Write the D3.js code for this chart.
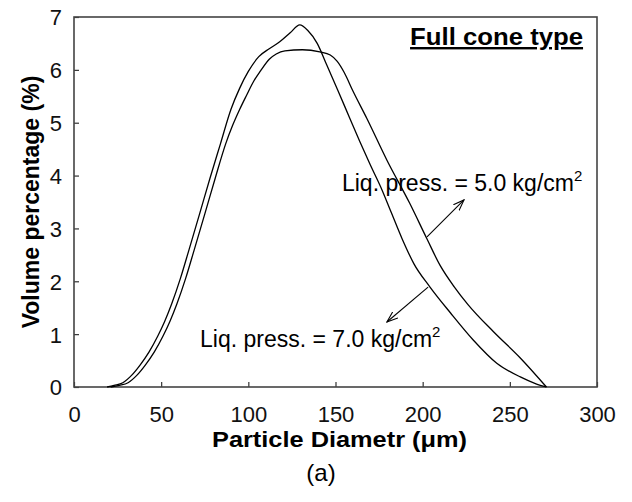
<!DOCTYPE html>
<html>
<head>
<meta charset="utf-8">
<script src="https://cdn.jsdelivr.net/npm/d3@7"></script>
<style>
  body { margin: 0; background: #fff; }
  text { font-family: "Liberation Sans", Arial, sans-serif; }
</style>
</head>
<body>
<script>
// data
var diam70 = [19, 23, 28, 33, 38, 43, 48, 52, 56, 61, 66, 72, 78, 84, 90, 95, 100, 106, 112, 118, 124, 129.5, 134, 139.5, 145, 151.5, 158, 164, 170, 176, 182, 188, 195, 204, 216, 229, 242.5, 256, 265, 271];
var vol70  = [0, 0.03, 0.08, 0.22, 0.42, 0.66, 0.96, 1.24, 1.57, 2.05, 2.6, 3.27, 3.95, 4.6, 5.25, 5.65, 5.97, 6.25, 6.4, 6.53, 6.7, 6.85, 6.75, 6.5, 6.09, 5.6, 5.1, 4.64, 4.2, 3.78, 3.3, 2.82, 2.33, 1.9, 1.4, 0.89, 0.45, 0.19, 0.06, 0];

var diam50 = [21, 26, 31, 36, 41, 46, 51, 55, 59, 64, 69, 75, 81, 87, 91, 95, 99, 103, 107, 112, 116, 121, 131, 141, 147, 151, 155, 160, 168, 179.5, 192.5, 202.5, 210, 218, 226, 240.5, 256, 271];
var vol50  = [0, 0.03, 0.08, 0.22, 0.42, 0.66, 0.96, 1.24, 1.57, 2.05, 2.6, 3.27, 3.95, 4.6, 4.95, 5.25, 5.52, 5.78, 5.98, 6.2, 6.3, 6.36, 6.38, 6.34, 6.28, 6.16, 5.95, 5.6, 5.08, 4.29, 3.48, 2.8, 2.3, 1.9, 1.56, 1.05, 0.55, 0];

var xTicks = [0, 50, 100, 150, 200, 250, 300];
var yTicks = [0, 1, 2, 3, 4, 5, 6, 7];

// annotations, in data units: text anchor and arrow from curve -> tip
var labels = [
  {text: "Liq. press. = 5.0 kg/cm", x: 153.7, y: 3.71, arrow: [[202.5, 2.84], [223.7, 3.54]]},
  {text: "Liq. press. = 7.0 kg/cm", x: 72.3, y: 0.76, arrow: [[203.1, 1.89], [179.5, 1.23]]}
];

var W = 632, H = 502;
var margin = {left: 74, right: 35, top: 17, bottom: 115};

var svg = d3.select("body").append("svg")
    .attr("width", W)
    .attr("height", H);

var xScale = d3.scaleLinear().domain([0, 300]).range([margin.left, W - margin.right]);
var yScale = d3.scaleLinear().domain([0, 7]).range([H - margin.bottom, margin.top]);

// arrow marker
svg.append("defs").append("marker")
    .attr("id", "arr")
    .attr("viewBox", "0 0 12 10")
    .attr("refX", 11).attr("refY", 5)
    .attr("markerWidth", 12).attr("markerHeight", 10)
    .attr("markerUnits", "userSpaceOnUse")
    .attr("orient", "auto")
  .append("path")
    .attr("d", "M0,1 L11,5 L0,9")
    .attr("fill", "none")
    .attr("stroke", "#000")
    .attr("stroke-width", 1.1);

// axes, ticks pointing inward
var xAxis = d3.axisBottom(xScale).tickValues(xTicks).tickFormat(d3.format("d"))
    .tickSizeInner(-5).tickSizeOuter(0).tickPadding(19);
var yAxis = d3.axisLeft(yScale).tickValues(yTicks).tickFormat(d3.format("d"))
    .tickSizeInner(-5).tickSizeOuter(0).tickPadding(12);

var gx = svg.append("g")
    .attr("transform", "translate(0," + yScale(0) + ")")
    .call(xAxis);
var gy = svg.append("g")
    .attr("transform", "translate(" + xScale(0) + ",0)")
    .call(yAxis);

[gx, gy].forEach(function(g){
    g.select(".domain").remove();
    g.selectAll(".tick line").attr("stroke", "#333").attr("stroke-width", 1.2);
    g.selectAll(".tick text")
        .attr("fill", "#111")
        .style("font-size", "22px")
        .style("font-family", "'Liberation Sans', Arial, sans-serif");
});
gx.selectAll(".tick text").attr("dy", null).attr("y", 35);
gy.selectAll(".tick text").attr("dy", "0.36em");

// frame
svg.append("rect")
    .attr("x", xScale(0))
    .attr("y", yScale(7))
    .attr("width", xScale(300) - xScale(0))
    .attr("height", yScale(0) - yScale(7))
    .attr("fill", "none")
    .attr("stroke", "#444")
    .attr("stroke-width", 1.6);

// curves
var line = d3.line()
    .x(function(d){ return xScale(d[0]); })
    .y(function(d){ return yScale(d[1]); })
    .curve(d3.curveMonotoneX);

[[diam70, vol70], [diam50, vol50]].forEach(function(s){
    svg.append("path")
        .datum(d3.zip(s[0], s[1]))
        .attr("d", line)
        .attr("fill", "none")
        .attr("stroke", "#000")
        .attr("stroke-width", 1.3);
});

// annotations
labels.forEach(function(l){
    var t = svg.append("text")
        .attr("x", xScale(l.x))
        .attr("y", yScale(l.y))
        .style("font-size", "23px")
        .attr("fill", "#000")
        .text(l.text);
    t.append("tspan")
        .attr("dy", -10)
        .style("font-size", "15px")
        .text("2");

    svg.append("line")
        .attr("x1", xScale(l.arrow[0][0]))
        .attr("y1", yScale(l.arrow[0][1]))
        .attr("x2", xScale(l.arrow[1][0]))
        .attr("y2", yScale(l.arrow[1][1]))
        .attr("stroke", "#000")
        .attr("stroke-width", 1.1)
        .attr("marker-end", "url(#arr)");
});

// title in the corner
svg.append("text")
    .attr("x", xScale(292))
    .attr("y", yScale(6.47))
    .attr("text-anchor", "end")
    .attr("textLength", 173)
    .attr("lengthAdjust", "spacingAndGlyphs")
    .style("font-size", "24px")
    .style("font-weight", "bold")
    .style("text-decoration", "underline")
    .text("Full cone type");

// axis titles
svg.append("text")
    .attr("x", 212)
    .attr("y", 447)
    .attr("textLength", 255)
    .attr("lengthAdjust", "spacingAndGlyphs")
    .style("font-size", "22px")
    .style("font-weight", "bold")
    .text("Particle Diametr (\u03bcm)");

svg.append("text")
    .attr("transform", "translate(39," + ((yScale(0) + yScale(7)) / 2) + ") rotate(-90)")
    .attr("text-anchor", "middle")
    .style("font-size", "23px")
    .style("font-weight", "bold")
    .text("Volume percentage (%)");

svg.append("text")
    .attr("x", 321)
    .attr("y", 481)
    .attr("text-anchor", "middle")
    .style("font-size", "24px")
    .text("(a)");
</script>
</body>
</html>
